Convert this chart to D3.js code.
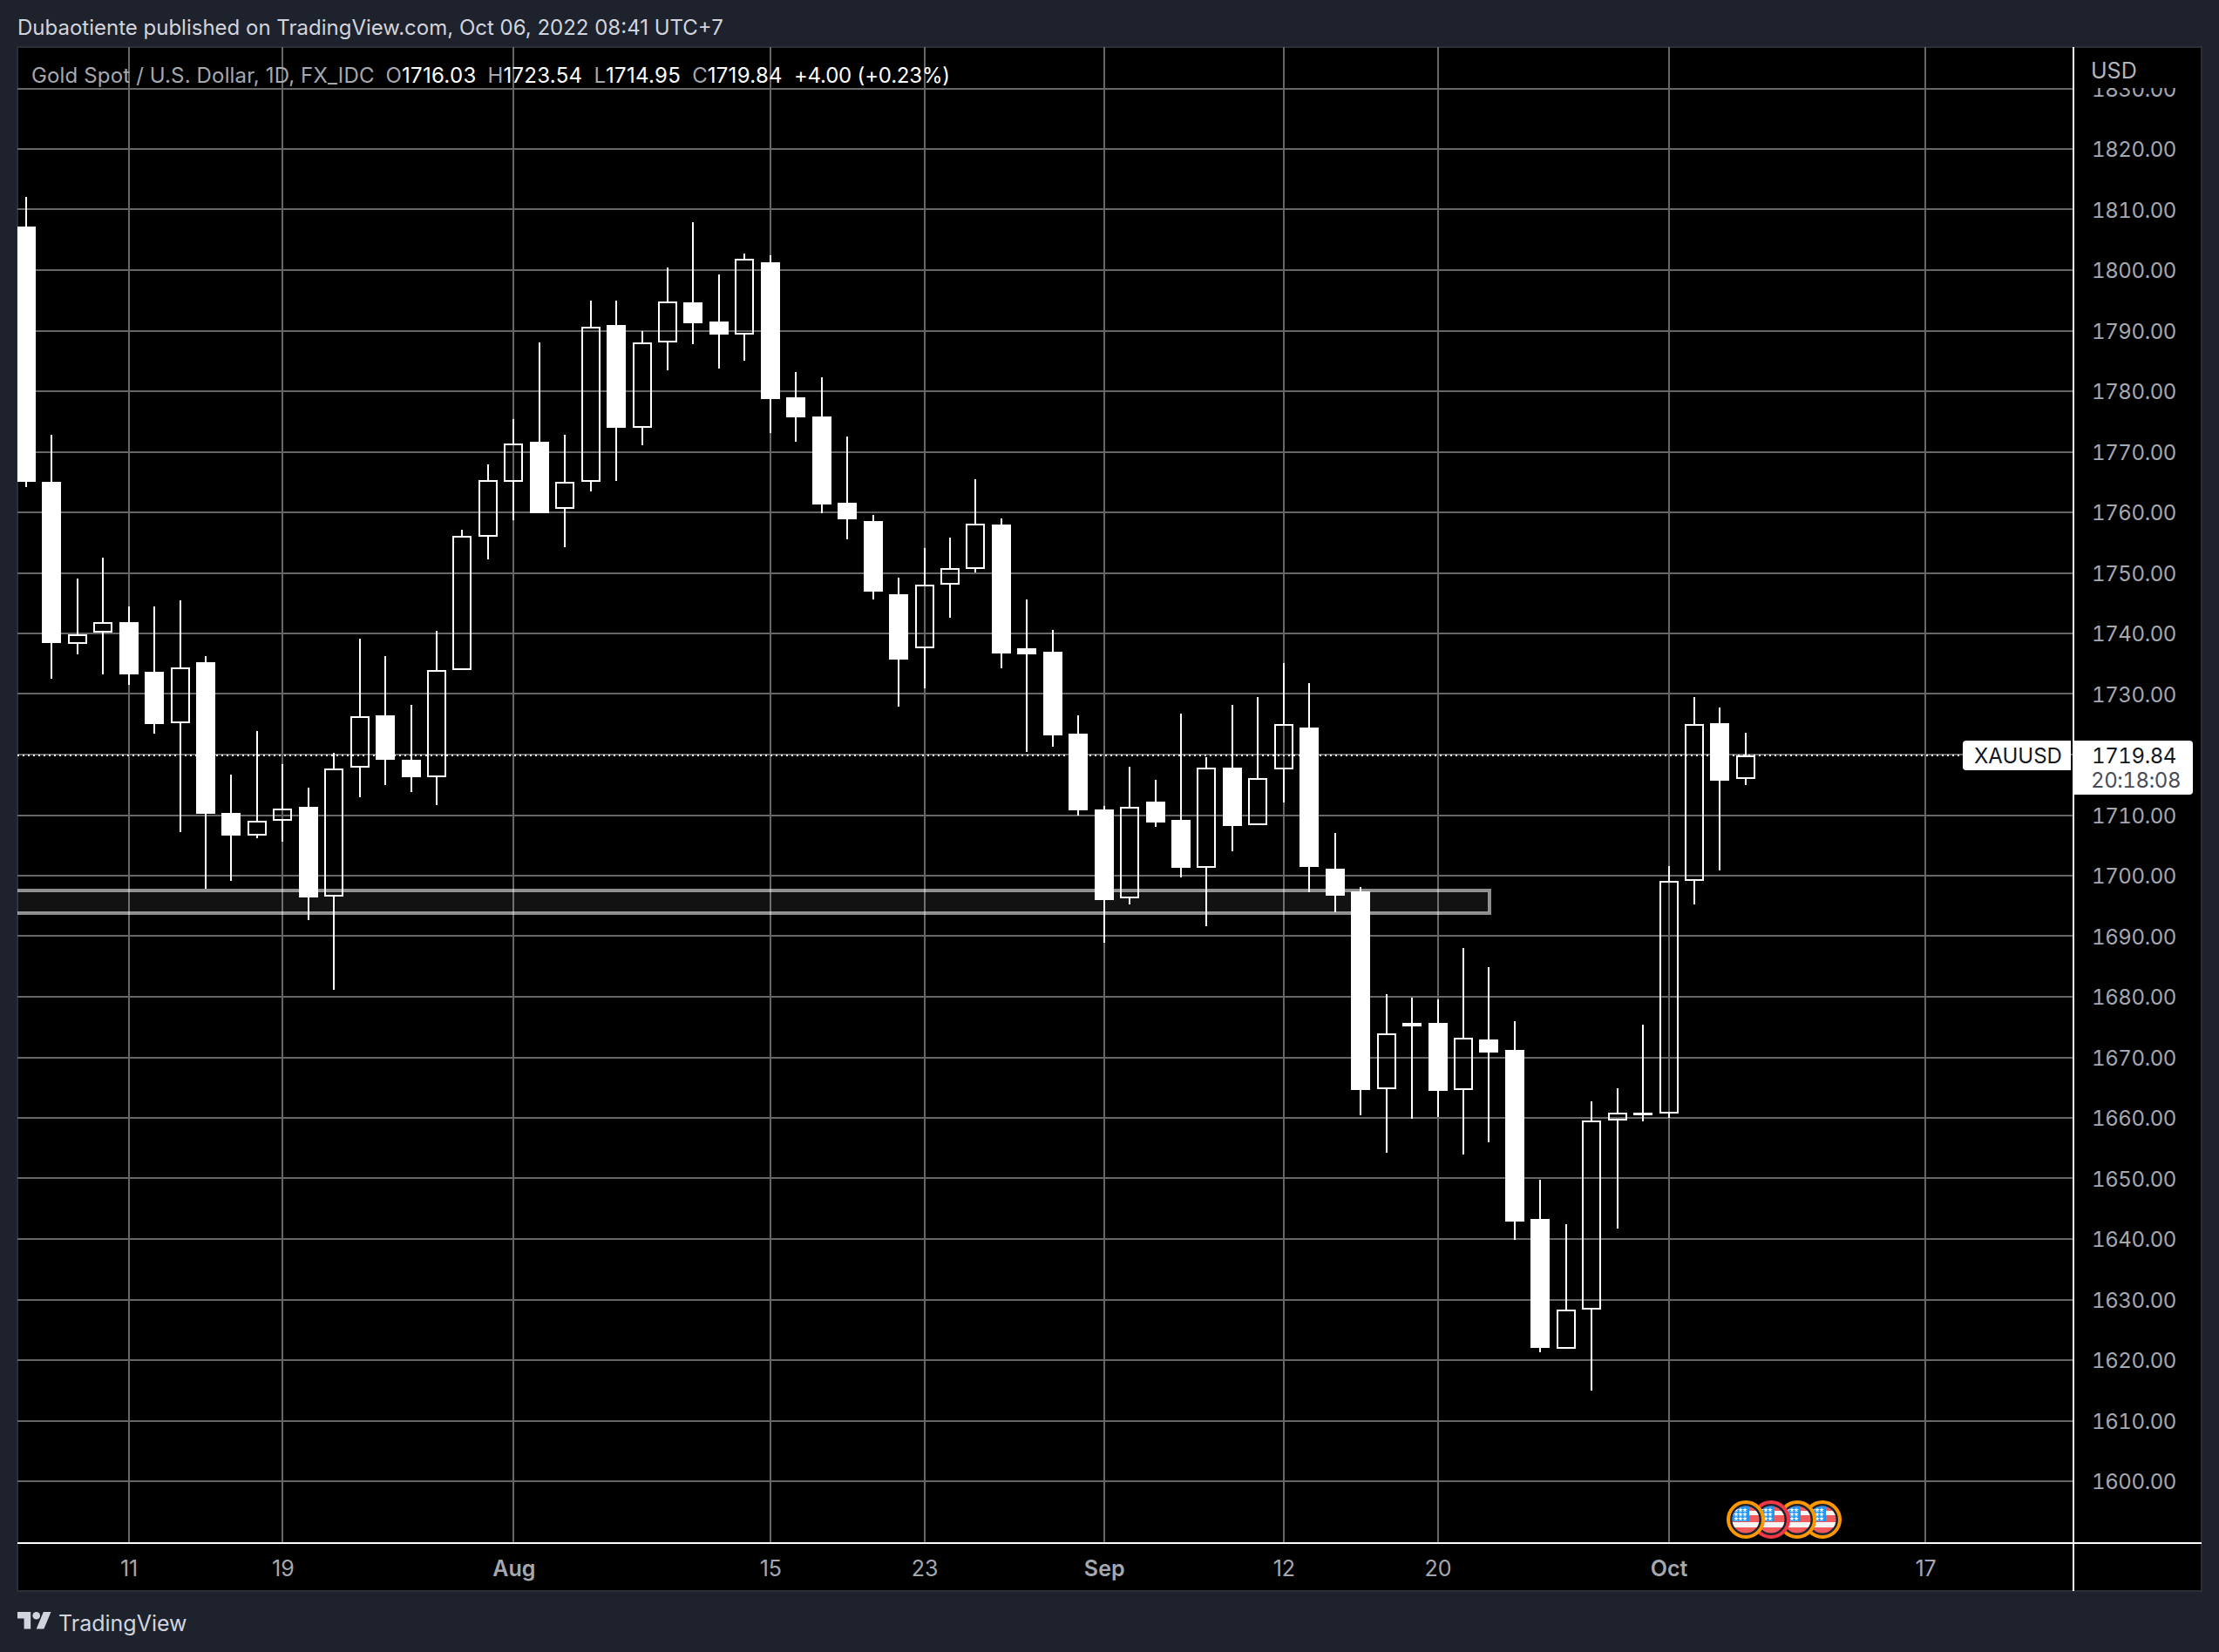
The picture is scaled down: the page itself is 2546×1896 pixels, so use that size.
<!DOCTYPE html>
<html>
<head>
<meta charset="utf-8">
<title>XAUUSD</title>
<script src="https://cdn.jsdelivr.net/npm/d3@7"></script>
<style>
  body { margin: 0; background: #1e222d; }
  svg { display: block; }
  text { font-family: Inter, "Noto Sans", sans-serif; }
  .num { font-variant-numeric: tabular-nums; letter-spacing: -0.4px; font-size: 24px; }
</style>
</head>
<body>
<svg id="chart" width="2546" height="1896"></svg>
<script>
const dates = [
  "Jul 05", "Jul 06", "Jul 07", "Jul 08",
  "Jul 11", "Jul 12", "Jul 13", "Jul 14", "Jul 15",
  "Jul 18", "Jul 19", "Jul 20", "Jul 21", "Jul 22",
  "Jul 25", "Jul 26", "Jul 27", "Jul 28", "Jul 29",
  "Aug 01", "Aug 02", "Aug 03", "Aug 04", "Aug 05",
  "Aug 08", "Aug 09", "Aug 10", "Aug 11", "Aug 12",
  "Aug 15", "Aug 16", "Aug 17", "Aug 18", "Aug 19",
  "Aug 22", "Aug 23", "Aug 24", "Aug 25", "Aug 26",
  "Aug 29", "Aug 30", "Aug 31", "Sep 01", "Sep 02",
  "Sep 05", "Sep 06", "Sep 07", "Sep 08", "Sep 09",
  "Sep 12", "Sep 13", "Sep 14", "Sep 15", "Sep 16",
  "Sep 19", "Sep 20", "Sep 21", "Sep 22", "Sep 23",
  "Sep 26", "Sep 27", "Sep 28", "Sep 29", "Sep 30",
  "Oct 03", "Oct 04", "Oct 05", "Oct 06", "Oct 07",
  "Oct 10", "Oct 11", "Oct 12", "Oct 13", "Oct 14",
  "Oct 17"
];

const opens = [
  1807.2, 1765.0, 1738.3, 1740.1, 1741.9, 1733.7, 1725.2, 1735.3, 1710.4, 1706.6,
  1709.0, 1711.4, 1696.6, 1717.8, 1726.5, 1719.2, 1716.2, 1733.9, 1756.0, 1765.1,
  1771.7, 1760.6, 1765.0, 1790.9, 1774.0, 1788.1, 1794.7, 1791.5, 1789.4, 1801.3,
  1779.0, 1775.8, 1761.6, 1758.6, 1746.5, 1737.5, 1748.1, 1750.7, 1758.0, 1737.6,
  1737.0, 1723.4, 1710.9, 1696.2, 1712.2, 1709.2, 1701.3, 1717.8, 1708.4, 1717.5,
  1724.5, 1701.1, 1697.4, 1664.7, 1675.7, 1675.7, 1664.6, 1673.0, 1671.2, 1643.3,
  1621.8, 1628.4, 1659.6, 1660.6, 1660.7, 1699.1, 1725.2, 1716.03
];
const highs = [
  1812.1, 1772.8, 1749.0, 1752.5, 1744.5, 1744.5, 1745.5, 1736.3, 1716.7, 1723.9,
  1718.4, 1714.5, 1720.3, 1739.2, 1736.3, 1728.2, 1740.4, 1757.1, 1767.9, 1775.4,
  1788.0, 1772.8, 1795.0, 1795.0, 1790.0, 1800.5, 1807.9, 1799.3, 1802.7, 1802.4,
  1783.1, 1782.3, 1772.5, 1759.6, 1749.2, 1754.1, 1755.8, 1765.5, 1759.0, 1745.6,
  1740.6, 1726.5, 1711.5, 1718.0, 1715.8, 1726.8, 1719.6, 1728.2, 1729.5, 1735.1,
  1731.8, 1707.0, 1698.1, 1680.5, 1679.8, 1679.6, 1688.1, 1684.9, 1676.0, 1649.8,
  1642.5, 1662.8, 1664.9, 1675.4, 1701.6, 1729.5, 1727.8, 1723.54
];
const lows = [
  1764.2, 1732.5, 1736.5, 1733.2, 1731.5, 1723.4, 1707.2, 1697.8, 1699.2, 1706.2,
  1705.6, 1692.6, 1681.1, 1713.0, 1714.9, 1713.8, 1711.7, 1733.9, 1752.3, 1758.7,
  1759.8, 1754.3, 1763.5, 1765.2, 1771.1, 1783.4, 1787.8, 1783.8, 1785.1, 1773.1,
  1771.7, 1759.9, 1755.6, 1745.6, 1727.9, 1730.9, 1742.6, 1750.1, 1734.3, 1720.5,
  1721.3, 1709.9, 1688.9, 1695.2, 1708.0, 1699.7, 1691.6, 1704.1, 1708.4, 1712.1,
  1697.2, 1693.9, 1660.4, 1654.3, 1659.8, 1660.1, 1654.0, 1655.9, 1639.8, 1621.3,
  1621.8, 1615.0, 1641.7, 1659.4, 1660.0, 1695.3, 1700.8, 1714.95
];
const closes = [
  1765.0, 1738.4, 1739.9, 1741.8, 1733.3, 1725.1, 1734.4, 1710.2, 1706.6, 1709.1,
  1711.1, 1696.4, 1717.7, 1726.4, 1719.2, 1716.3, 1734.0, 1756.1, 1765.3, 1771.4,
  1759.8, 1765.1, 1790.7, 1774.0, 1788.1, 1794.8, 1791.2, 1789.4, 1801.9, 1778.7,
  1775.7, 1761.3, 1758.8, 1746.9, 1735.7, 1748.0, 1750.8, 1758.1, 1736.7, 1736.6,
  1723.2, 1710.8, 1696.0, 1711.3, 1708.8, 1701.3, 1717.8, 1708.2, 1716.1, 1725.0,
  1701.4, 1696.7, 1664.6, 1673.9, 1675.1, 1664.5, 1673.2, 1670.8, 1642.9, 1622.0,
  1628.4, 1659.6, 1660.9, 1660.9, 1699.2, 1725.1, 1715.7, 1719.84
];

const priceTicks = d3.range(1600, 1831, 10);
const priceLabels = priceTicks.filter(d => d !== 1720); // 1720 sits behind the price tag
const timeTicks = ["Jul 11", "Jul 19", "Aug 01", "Aug 15", "Aug 23", "Sep 01", "Sep 12", "Sep 20", "Oct 03", "Oct 17"];
const timeLabels = ["11", "19", "Aug", "15", "23", "Sep", "12", "20", "Oct", "17"];
const eventDates = ["Oct 06", "Oct 07", "Oct 10", "Oct 11"];
const eventRings = ["#ff9800", "#f23645", "#ff9800", "#ff9800"];
const zonePrices = [1697.6, 1693.8];
const zoneEnd = "Sep 22";
const lastPrice = 1719.84;
const legendParts = [["O", "1716.03"], ["H", "1723.54"], ["L", "1714.95"], ["C", "1719.84"]];

const plot = { left: 20, right: 2379, top: 54, bottom: 1771, panelRight: 2526, panelBottom: 1826 };
const GRID = "#666666";
const WHITE = "#ffffff";
const AXIS_TEXT = "#a6a8b0";

const svg = d3.select("#chart");

const x = d3.scalePoint().domain(dates).range([29.8, 2209.1]);
const y = d3.scaleLinear().domain([1600, 1820]).range([1700, 171]);
const px = d => Math.round(x(d));
const py = v => Math.round(y(v));

// panel
svg.append("rect")
  .attr("x", plot.left).attr("y", plot.top)
  .attr("width", plot.panelRight - plot.left).attr("height", plot.panelBottom - plot.top)
  .attr("fill", "#000").attr("stroke", "#2a2e39").attr("stroke-width", 2);

svg.append("clipPath").attr("id", "plot-clip").append("rect")
  .attr("x", plot.left).attr("y", plot.top)
  .attr("width", plot.right - plot.left).attr("height", plot.bottom - plot.top);

const g = svg.append("g").attr("clip-path", "url(#plot-clip)");

// grid
g.selectAll(".h-grid").data(priceTicks).join("line")
  .attr("class", "h-grid")
  .attr("x1", plot.left).attr("x2", plot.right)
  .attr("y1", py).attr("y2", py)
  .attr("stroke", GRID).attr("stroke-width", 2);

g.selectAll(".v-grid").data(timeTicks).join("line")
  .attr("class", "v-grid")
  .attr("x1", px).attr("x2", px)
  .attr("y1", plot.top).attr("y2", plot.bottom)
  .attr("stroke", GRID).attr("stroke-width", 2);

// zone box, runs off the left edge
g.append("rect")
  .attr("x", 0)
  .attr("y", py(zonePrices[0]))
  .attr("width", px(zoneEnd) + 1)
  .attr("height", py(zonePrices[1]) - py(zonePrices[0]))
  .attr("fill", "rgba(255,255,255,0.07)")
  .attr("stroke", "rgba(255,255,255,0.55)")
  .attr("stroke-width", 4);

// last price line
g.append("line")
  .attr("x1", plot.left).attr("x2", 2252)
  .attr("y1", py(lastPrice)).attr("y2", py(lastPrice))
  .attr("stroke", WHITE).attr("stroke-width", 2)
  .attr("stroke-dasharray", "2 4");

// candles
const candles = opens.map((o, i) => ({
  date: dates[i], open: o, high: highs[i], low: lows[i], close: closes[i],
  top: Math.max(o, closes[i]), bottom: Math.min(o, closes[i]), up: closes[i] >= o
}));

const candle = g.selectAll(".candle").data(candles).join("g").attr("class", "candle");

candle.append("line")
  .attr("x1", d => px(d.date)).attr("x2", d => px(d.date))
  .attr("y1", d => py(d.high)).attr("y2", d => py(d.top))
  .attr("stroke", WHITE).attr("stroke-width", 2);

candle.append("line")
  .attr("x1", d => px(d.date)).attr("x2", d => px(d.date))
  .attr("y1", d => py(d.bottom)).attr("y2", d => py(d.low))
  .attr("stroke", WHITE).attr("stroke-width", 2);

candle.filter(d => !d.up).append("rect")
  .attr("x", d => px(d.date) - 11)
  .attr("y", d => py(d.top))
  .attr("width", 22)
  .attr("height", d => Math.max(py(d.bottom) - py(d.top), 3))
  .attr("fill", WHITE);

candle.filter(d => d.up).append("rect")
  .attr("x", d => px(d.date) - 10)
  .attr("y", d => py(d.top) + 1)
  .attr("width", 20)
  .attr("height", d => Math.max(py(d.bottom) - py(d.top) - 2, 1))
  .attr("fill", "none")
  .attr("stroke", WHITE).attr("stroke-width", 2);

// economic event markers, the first one sits on top
const marker = g.selectAll(".event").data(eventDates.map((d, i) => ({ date: d, ring: eventRings[i] })).reverse())
  .join("g")
  .attr("class", "event")
  .attr("transform", d => `translate(${px(d.date)}, 1744)`);

svg.append("clipPath").attr("id", "flag-clip").append("circle").attr("r", 15.5);

marker.append("circle").attr("r", 20).attr("fill", "#1e222d").attr("stroke", d => d.ring).attr("stroke-width", 4);

const flag = marker.append("g").attr("clip-path", "url(#flag-clip)");
flag.append("rect").attr("x", -16).attr("y", -16).attr("width", 32).attr("height", 32).attr("fill", "#f15b5b");
flag.append("rect").attr("x", -16).attr("y", -10).attr("width", 32).attr("height", 5).attr("fill", "#f5f5f5");
flag.append("rect").attr("x", -16).attr("y", 3).attr("width", 32).attr("height", 6).attr("fill", "#f5f5f5");
flag.append("rect").attr("x", -16).attr("y", -16).attr("width", 20).attr("height", 18).attr("fill", "#2196f3");
[-11, -6, -1].forEach(sy => {
  [-11, -6, -1].forEach(sx => {
    flag.append("path")
      .attr("d", d3.symbol(d3.symbolStar, 10))
      .attr("transform", `translate(${sx}, ${sy})`)
      .attr("fill", WHITE);
  });
});

// axes
const yAxis = d3.axisRight(y).tickValues(priceLabels).tickFormat(d3.format(".2f")).tickSize(0).tickPadding(0);
const yAxisG = svg.append("g").attr("transform", "translate(2400, 1)").call(yAxis);
yAxisG.attr("font-size", null).attr("font-family", null);
yAxisG.select(".domain").remove();
yAxisG.selectAll("text")
  .attr("class", "num")
  .attr("fill", AXIS_TEXT);

const xAxis = d3.axisBottom(x).tickValues(timeTicks)
  .tickFormat(d => timeLabels[timeTicks.indexOf(d)]).tickSize(0).tickPadding(20);
const xAxisG = svg.append("g").attr("transform", `translate(0, ${plot.bottom})`).call(xAxis);
xAxisG.select(".domain").remove();
xAxisG.selectAll("text")
  .attr("fill", AXIS_TEXT)
  .style("font-size", "25px")
  .style("font-family", "Inter")
  .style("font-weight", d => (isNaN(+timeLabels[timeTicks.indexOf(d)]) ? 600 : 400));

// USD cap hides the top half of the 1830 label
svg.append("rect").attr("x", 2381).attr("y", plot.top + 1).attr("width", 144).attr("height", 46).attr("fill", "#000");
svg.append("text").attr("x", 2399).attr("y", 90)
  .attr("fill", "#b2b5be").style("font-size", "25px").text("USD");

// axis border lines
svg.append("line").attr("x1", plot.left).attr("x2", plot.panelRight).attr("y1", plot.bottom).attr("y2", plot.bottom)
  .attr("stroke", WHITE).attr("stroke-width", 2);
svg.append("line").attr("x1", plot.right).attr("x2", plot.right).attr("y1", plot.top).attr("y2", plot.panelBottom)
  .attr("stroke", WHITE).attr("stroke-width", 2);

// symbol and price tags
svg.append("path")
  .attr("d", "M2252 854a4 4 0 0 1 4 -4H2376V884H2256a4 4 0 0 1 -4 -4Z")
  .attr("fill", WHITE);
svg.append("text").attr("x", 2265).attr("y", 876).attr("fill", "#131722").style("font-size", "24px").text("XAUUSD");
svg.append("path")
  .attr("d", "M2380 850H2512a4 4 0 0 1 4 4V908a4 4 0 0 1 -4 4H2380Z")
  .attr("fill", WHITE);
svg.append("text").attr("class", "num").attr("x", 2400).attr("y", 876).attr("fill", "#131722").text(d3.format(".2f")(lastPrice));
svg.append("text").attr("class", "num").attr("x", 2399).attr("y", 904).attr("fill", "#4a4d55").text("20:18:08");

// header, legend, footer
svg.append("text").attr("x", 20).attr("y", 40).attr("fill", "#d1d4dc").style("font-size", "24px")
  .text("Dubaotiente published on TradingView.com, Oct 06, 2022 08:41 UTC+7");

const legend = svg.append("text").attr("x", 36).attr("y", 95).style("font-size", "24px");
legend.append("tspan").attr("fill", "#a6a8b0").style("letter-spacing", "0.15px").text("Gold Spot / U.S. Dollar, 1D, FX_IDC");
legendParts.forEach(([k, v], i) => {
  legend.append("tspan").attr("fill", "#a6a8b0").attr("dx", 13).text(k);
  legend.append("tspan").attr("fill", WHITE).style("letter-spacing", "0.3px").text(v);
});
legend.append("tspan").attr("fill", WHITE).attr("dx", 13).style("letter-spacing", "-0.2px").text("+4.00 (+0.23%)");

svg.append("path")
  .attr("transform", "translate(20, 1845.6) scale(1.085)")
  .attr("d", "M14 22H7V11H0V4h14v18zM28 22h-8l7.5-18h8L28 22z")
  .attr("fill", "#d1d4dc");
svg.append("circle").attr("cx", 20 + 20 * 1.085).attr("cy", 1845.6 + 8 * 1.085).attr("r", 4 * 1.085).attr("fill", "#d1d4dc");
svg.append("text").attr("x", 67).attr("y", 1872).attr("fill", "#d1d4dc").style("font-size", "25px").text("TradingView");
</script>
</body>
</html>
